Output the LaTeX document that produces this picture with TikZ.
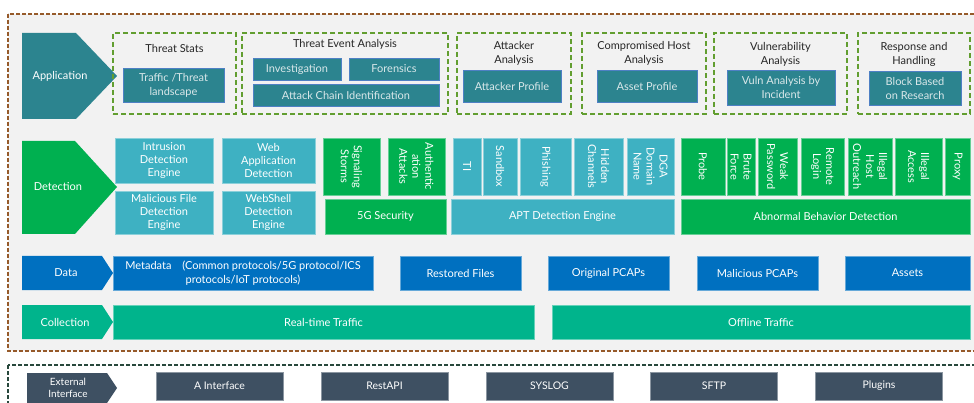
\documentclass[tikz,border=0pt]{standalone}
\usepackage{fontspec}
\setmainfont{Lato}
\usepackage{tikz}
\usetikzlibrary{positioning}
\definecolor{appteal}{RGB}{44,132,143}
\definecolor{tealedge}{RGB}{78,128,196}
\definecolor{tealtext}{RGB}{218,232,234}
\definecolor{detgreen}{RGB}{0,176,80}
\definecolor{detcyan}{RGB}{62,177,194}
\definecolor{datablue}{RGB}{0,112,192}
\definecolor{colgreen}{RGB}{0,180,140}
\definecolor{slate}{RGB}{62,80,98}
\definecolor{dashgreen}{RGB}{98,158,48}
\definecolor{dashbrown}{RGB}{150,90,42}
\definecolor{dashdark}{RGB}{40,72,60}
\definecolor{panelgrey}{RGB}{242,242,242}

\begin{document}
\begin{tikzpicture}[x=1pt, y=-1pt,
    groupbox/.style={draw=dashgreen, line width=1.8pt, dash pattern=on 5pt off 3pt},
    grouptitle/.style={align=center, text=black!85, inner sep=0pt, font=\fontsize{11}{14}\selectfont},
    tealbox/.style={draw=tealedge, line width=0.8pt, fill=appteal, text=tealtext, align=center, inner sep=1pt, font=\fontsize{11}{14}\selectfont},
    cyanbox/.style={draw=detcyan!60!white, line width=0.6pt, fill=detcyan, text=white, align=center, inner sep=1pt, font=\fontsize{11}{13}\selectfont},
    greenbox/.style={draw=detgreen!60!white, line width=0.6pt, fill=detgreen, text=white, align=center, inner sep=1pt, font=\fontsize{11}{13}\selectfont},
    bluebox/.style={draw=datablue!60!white, line width=0.6pt, fill=datablue, text=white, align=center, inner sep=1pt, font=\fontsize{11}{14}\selectfont},
    trafficbox/.style={draw=colgreen!60!white, line width=0.6pt, fill=colgreen, text=white, align=center, inner sep=1pt, font=\fontsize{11}{14}\selectfont},
    ifbox/.style={draw=slate!60!white, line width=0.6pt, fill=slate, text=white, align=center, inner sep=1pt, font=\fontsize{10.5}{12}\selectfont},
    rowlabel/.style={text=white, align=center, inner sep=0pt, font=\fontsize{11}{13}\selectfont}
]
    \useasboundingbox (0,0) rectangle (974,403);
    \clip (0,0) rectangle (974,403);

    % frames
    \draw[dashbrown, fill=panelgrey, line width=1.3pt, dash pattern=on 4pt off 2pt] (8,14) rectangle (982,351);
    \draw[dashdark, line width=1.3pt, dash pattern=on 4pt off 2pt] (8,365) rectangle (982,412);

    % Application layer
    \fill[appteal] (22,33) -- (76,33) -- (117,76) -- (76,119) -- (22,119) -- cycle;
    \node[rowlabel] (app) at (60,76) {Application};

    \node[groupbox, minimum width=123pt, minimum height=81pt] (stats) at (174.5,73.5) {};
    \node[grouptitle] (statstitle) at (174.5,48) {Threat Stats};
    \node[tealbox, minimum width=101pt, minimum height=34pt] (landscape) at (173.5,85) {Traffic /Threat\\landscape};

    \node[groupbox, minimum width=206pt, minimum height=81pt] (event) at (345,73.5) {};
    \node[grouptitle] (eventtitle) at (345,44) {Threat Event Analysis};
    \node[tealbox, minimum width=88pt, minimum height=22pt] (invest) at (297,69) {Investigation};
    \node[tealbox, minimum width=90pt, minimum height=22pt] (forensics) at (394,69) {Forensics};
    \node[tealbox, minimum width=186pt, minimum height=22pt] (chain) at (346,95) {Attack Chain Identification};

    \node[groupbox, minimum width=114pt, minimum height=81pt] (attacker) at (514,73.5) {};
    \node[grouptitle] (attackertitle) at (514,53) {Attacker\\Analysis};
    \node[tealbox, minimum width=98pt, minimum height=32pt] (profile) at (512,86) {Attacker Profile};

    \node[groupbox, minimum width=124pt, minimum height=81pt] (host) at (644,73.5) {};
    \node[grouptitle] (hosttitle) at (644,53) {Compromised Host\\Analysis};
    \node[tealbox, minimum width=100pt, minimum height=32pt] (asset) at (647,86) {Asset Profile};

    \node[groupbox, minimum width=133pt, minimum height=81pt] (vuln) at (780.5,73.5) {};
    \node[grouptitle] (vulntitle) at (780.5,54) {Vulnerability\\Analysis};
    \node[tealbox, minimum width=108pt, minimum height=35pt] (incident) at (781,87.5) {Vuln Analysis by\\Incident};

    \node[groupbox, minimum width=112pt, minimum height=81pt] (response) at (914,73.5) {};
    \node[grouptitle] (responsetitle) at (914,54.5) {Response and\\Handling};
    \node[tealbox, minimum width=92pt, minimum height=34pt] (block) at (915,88) {Block Based\\on Research};

    % Detection layer
    \fill[detgreen] (22,141) -- (75,141) -- (117,187) -- (75,234) -- (22,234) -- cycle;
    \node[rowlabel] (det) at (58,187) {Detection};

    \node[cyanbox, minimum width=98pt, minimum height=45pt] (ids) at (164,160.5) {Intrusion\\Detection\\Engine};
    \node[cyanbox, minimum width=98pt, minimum height=43pt] (mfd) at (164,212.5) {Malicious File\\Detection\\Engine};
    \node[cyanbox, minimum width=93pt, minimum height=45pt] (waf) at (268.5,160.5) {Web\\Application\\Detection};
    \node[cyanbox, minimum width=93pt, minimum height=43pt] (webshell) at (268.5,212.5) {WebShell\\Detection\\Engine};

    \node[greenbox, rotate=-90, minimum width=57pt, minimum height=57pt] (storms) at (351.5,166.5) {Signaling\\Storms};
    \node[greenbox, rotate=-90, minimum width=57pt, minimum height=57pt] (auth) at (416.5,166.5) {Authentic\\ation\\Attacks};
    \node[greenbox, minimum width=121pt, minimum height=35pt] (fiveg) at (385.5,216.5) {5G Security};

    \node[cyanbox, rotate=-90, minimum width=57pt, minimum height=28pt] (ti) at (467,166.5) {TI};
    \node[cyanbox, rotate=-90, minimum width=57pt, minimum height=34pt] (sandbox) at (500,166.5) {Sandbox};
    \node[cyanbox, rotate=-90, minimum width=57pt, minimum height=51pt] (phishing) at (545.5,166.5) {Phishing};
    \node[cyanbox, rotate=-90, minimum width=57pt, minimum height=49pt] (hidden) at (598.5,166.5) {Hidden\\Channels};
    \node[cyanbox, rotate=-90, minimum width=57pt, minimum height=47pt] (dga) at (650.5,166.5) {DGA\\Domain\\Name};
    \node[cyanbox, minimum width=223pt, minimum height=35pt] (apt) at (562.5,216.5) {APT Detection Engine};

    \node[greenbox, rotate=-90, minimum width=57pt, minimum height=44pt] (probe) at (703,166.5) {Probe};
    \node[greenbox, rotate=-90, minimum width=57pt, minimum height=28pt] (brute) at (741,166.5) {Brute\\Force};
    \node[greenbox, rotate=-90, minimum width=57pt, minimum height=39pt] (weak) at (777.5,166.5) {Weak\\Password};
    \node[greenbox, rotate=-90, minimum width=57pt, minimum height=43pt] (remote) at (822.5,166.5) {Remote\\Login};
    \node[greenbox, rotate=-90, minimum width=57pt, minimum height=44pt] (outreach) at (870,166.5) {Illegal\\Host\\Outreach};
    \node[greenbox, rotate=-90, minimum width=57pt, minimum height=47pt] (access) at (918.5,166.5) {Illegal\\Access};
    \node[greenbox, rotate=-90, minimum width=57pt, minimum height=25pt] (proxy) at (957.5,166.5) {Proxy};
    \node[greenbox, minimum width=289pt, minimum height=35pt] (abnormal) at (825.5,216.5) {Abnormal Behavior Detection};

    % Data layer
    \fill[datablue] (22,256) -- (102,256) -- (113,273) -- (102,290) -- (22,290) -- cycle;
    \node[rowlabel] (data) at (66,273) {Data};
    \node[bluebox, minimum width=260pt, minimum height=34pt] (meta) at (243,273) {Metadata\quad(Common protocols/5G protocol/ICS\\protocols/IoT protocols)};
    \node[bluebox, minimum width=121pt, minimum height=34pt] (restored) at (460.5,273) {Restored Files};
    \node[bluebox, minimum width=121pt, minimum height=34pt] (original) at (608.5,273) {Original PCAPs};
    \node[bluebox, minimum width=121pt, minimum height=34pt] (malicious) at (757.5,273) {Malicious PCAPs};
    \node[bluebox, minimum width=125pt, minimum height=34pt] (assets) at (907.5,273) {Assets};

    % Collection layer
    \fill[colgreen] (22,305) -- (102,305) -- (113,322) -- (102,339) -- (22,339) -- cycle;
    \node[rowlabel] (collect) at (65,322) {Collection};
    \node[trafficbox, minimum width=421pt, minimum height=34pt] (realtime) at (323.5,322) {Real-time Traffic};
    \node[trafficbox, minimum width=418pt, minimum height=34pt] (offline) at (761,322) {Offline Traffic};

    % External interface
    \fill[slate] (27,373) -- (107,373) -- (117,388) -- (107,403) -- (27,403) -- cycle;
    \node[rowlabel, font=\fontsize{10}{12}\selectfont] (ext) at (68,388) {External\\Interface};
    \node[ifbox, minimum width=127pt, minimum height=28pt] (aif) at (219.5,386) {A Interface};
    \node[ifbox, minimum width=127pt, minimum height=28pt] (rest) at (384.5,386) {RestAPI};
    \node[ifbox, minimum width=127pt, minimum height=28pt] (syslog) at (549.5,386) {SYSLOG};
    \node[ifbox, minimum width=127pt, minimum height=28pt] (sftp) at (714,386) {SFTP};
    \node[ifbox, minimum width=127pt, minimum height=28pt] (plugins) at (879,386) {Plugins};
\end{tikzpicture}
\end{document}
